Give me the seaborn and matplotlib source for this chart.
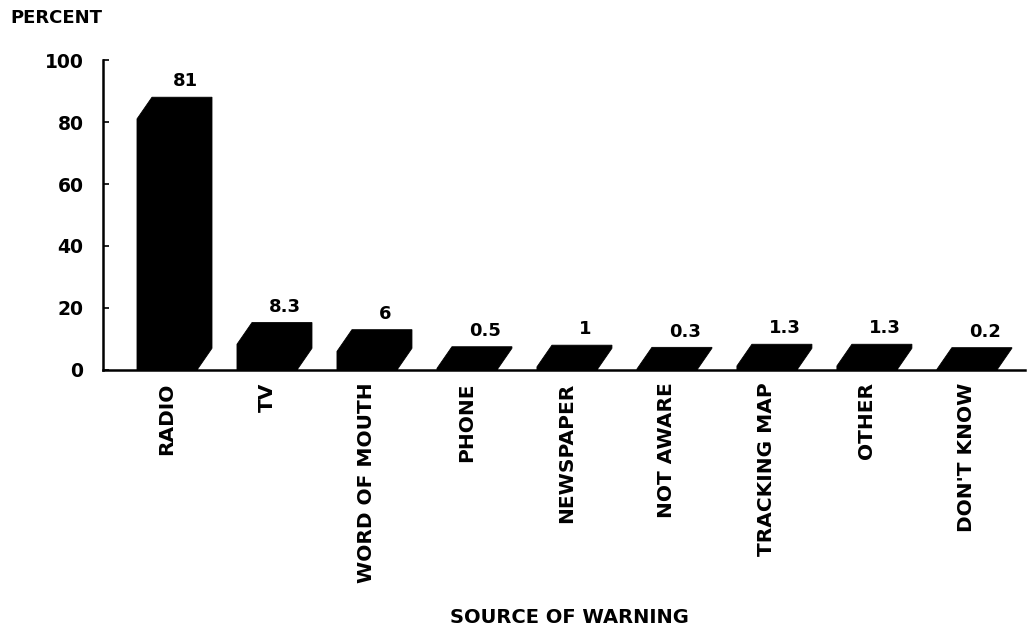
import matplotlib
matplotlib.use("Agg")
import matplotlib.pyplot as plt
from matplotlib.patches import Polygon
import seaborn as sns

# data
sources = ["RADIO", "TV", "WORD OF MOUTH", "PHONE", "NEWSPAPER",
           "NOT AWARE", "TRACKING MAP", "OTHER", "DON'T KNOW"]
percents = [81, 8.3, 6, 0.5, 1, 0.3, 1.3, 1.3, 0.2]
value_labels = ["81", "8.3", "6", "0.5", "1", "0.3", "1.3", "1.3", "0.2"]
y_ticks = [0, 20, 40, 60, 80, 100]

sns.set_style("white")
plt.rcParams["font.family"] = ["DejaVu Sans"]
plt.rcParams["font.weight"] = "bold"
plt.rcParams["text.color"] = "black"
plt.rcParams["axes.labelcolor"] = "black"
plt.rcParams["xtick.color"] = "black"
plt.rcParams["ytick.color"] = "black"

fig = plt.figure(figsize=(10.29, 6.44), dpi=100)
ax = fig.add_axes([0.1001, 0.4255, 0.8959, 0.4813])

sns.barplot(x=sources, y=percents, color="black", width=0.6,
            saturation=1, edgecolor="black", linewidth=0.6, ax=ax)

# fake 3-D look: front + slanted top face + right side face as one shape
depth_x = 0.15
depth_y = 7
for bar, lab in zip(ax.patches, value_labels):
    x0 = bar.get_x()
    x1 = x0 + bar.get_width()
    h = bar.get_height()
    poly = Polygon([(x0, 0), (x0, h), (x0 + depth_x, h + depth_y),
                    (x1 + depth_x, h + depth_y), (x1 + depth_x, depth_y),
                    (x1, 0)],
                   closed=True, facecolor="black", edgecolor="black",
                   linewidth=0.6)
    ax.add_patch(poly)
    ax.text((x0 + x1) / 2 + depth_x + 0.03, h + depth_y + 2.2, lab,
            ha="center", va="bottom", fontsize=13, fontweight="bold",
            color="black")

ax.set_xlim(-0.64, 8.58)
ax.set_ylim(0, 100)
ax.set_yticks(y_ticks)
ax.set_yticklabels([str(t) for t in y_ticks], fontsize=13.5, fontweight="bold")
ax.tick_params(axis="y", direction="in", length=4, width=1.2, pad=14,
               left=True, colors="black")
ax.tick_params(axis="x", length=0, pad=9, colors="black")
for t in ax.get_xticklabels():
    t.set_rotation(90)
    t.set_fontsize(14.5)
    t.set_fontweight("bold")
    t.set_va("top")

sns.despine(ax=ax)
ax.spines["left"].set_linewidth(1.8)
ax.spines["bottom"].set_linewidth(1.8)
ax.spines["left"].set_color("black")
ax.spines["bottom"].set_color("black")

ax.set_xlabel("SOURCE OF WARNING", fontsize=14, fontweight="bold",
              va="center", color="black")
ax.xaxis.set_label_coords(0.5065, -0.80)
ax.set_ylabel("")
fig.text(10 / 1029, 1 - 18 / 644, "PERCENT", ha="left", va="center",
         fontsize=13, fontweight="bold", color="black")

fig.savefig("out.png", dpi=100)
